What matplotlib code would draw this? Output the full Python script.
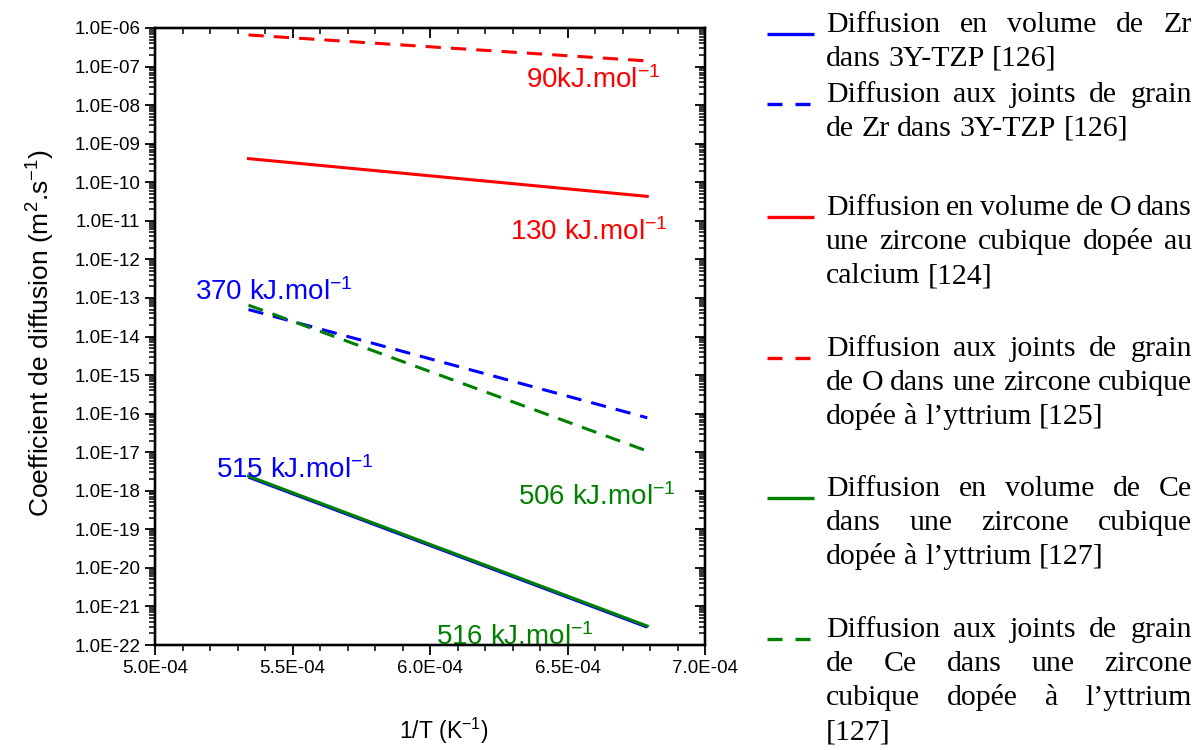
import numpy as np
import matplotlib.pyplot as plt
from matplotlib.ticker import LogLocator, MultipleLocator, FuncFormatter, NullFormatter

plt.rcParams['font.family'] = ['Liberation Sans', 'DejaVu Sans']
plt.rcParams['mathtext.fontset'] = 'custom'
plt.rcParams['mathtext.rm'] = 'Liberation Sans'
plt.rcParams['mathtext.it'] = 'Liberation Sans:italic'
plt.rcParams['mathtext.bf'] = 'Liberation Sans:bold'

# --- donnees (1/T aux bornes 1600 C et 1200 C) --- #
inv_T = [5.34e-4, 6.79e-4]

zr_vol = [2.25e-18, 2.9e-22]
zr_gb  = [5.0e-14, 7.8e-17]
o_vol  = [4.1e-10, 4.3e-11]
o_gb   = [6.6e-7, 1.4e-7]
ce_vol = [2.4e-18, 3.1e-22]
ce_gb  = [6.5e-14, 1.07e-17]

energies = ["90kJ.mol", "130 kJ.mol", "370 kJ.mol", "515 kJ.mol", "506 kJ.mol", "516 kJ.mol"]
ann_x = [6.35e-4, 6.29e-4, 5.145e-4, 5.22e-4, 6.32e-4, 6.02e-4]
ann_y = [4.5e-8, 5.1e-12, 1.4e-13, 3.5e-18, 6.9e-19, 1.6e-22]
ann_col = ['red', 'red', 'blue', 'blue', 'green', 'green']

legend_lines = [
    ["Diffusion en volume de Zr", "dans 3Y-TZP [126]"],
    ["Diffusion aux joints de grain", "de Zr dans 3Y-TZP [126]"],
    ["Diffusion en volume de O dans", "une zircone cubique dopée au", "calcium [124]"],
    ["Diffusion aux joints de grain", "de O dans une zircone cubique", "dopée à l\u2019yttrium [125]"],
    ["Diffusion en volume de Ce", "dans une zircone cubique", "dopée à l\u2019yttrium [127]"],
    ["Diffusion aux joints de grain", "de Ce dans une zircone", "cubique dopée à l\u2019yttrium", "[127]"],
]
legend_col = ['blue', 'blue', 'red', 'red', 'green', 'green']
legend_dash = [False, True, False, True, False, True]
legend_top = [22, 92, 205, 346, 486, 627]   # pixels

BLUE = '#0000FF'
RED = '#FF0000'
GREEN = '#008000'
cmap = {'blue': BLUE, 'red': RED, 'green': GREEN}

fig = plt.figure(figsize=(11.96, 7.5), dpi=100)
ax = fig.add_axes([155/1196, 1 - 645/750, 550/1196, 617/750])

lw = 2.2
dash = (0, (5, 3.3))
ax.plot(inv_T, zr_vol, color=BLUE, lw=lw, solid_capstyle='butt')
ax.plot(inv_T, zr_gb, color=BLUE, lw=lw, ls=dash)
ax.plot(inv_T, o_vol, color=RED, lw=lw)
ax.plot(inv_T, o_gb, color=RED, lw=lw, ls=dash)
ax.plot(inv_T, ce_vol, color=GREEN, lw=lw)
ax.plot(inv_T, ce_gb, color=GREEN, lw=lw, ls=dash)

for txt, x, y, c in zip(energies, ann_x, ann_y, ann_col):
    ax.text(x, y, txt + r"$^{\mathregular{-1}}$", color=cmap[c], fontsize=20,
            ha='left', va='center')

ax.set_yscale('log')
ax.set_xlim(5e-4, 7e-4)
ax.set_ylim(1e-22, 1e-6)

fmt = FuncFormatter(lambda v, p: f"{v:.1E}")
ax.xaxis.set_major_locator(MultipleLocator(0.5e-4))
ax.xaxis.set_minor_locator(MultipleLocator(0.1e-4))
ax.xaxis.set_major_formatter(fmt)
ax.yaxis.set_major_locator(LogLocator(base=10, numticks=40))
ax.yaxis.set_minor_locator(LogLocator(base=10, subs=np.arange(2, 10), numticks=400))
ax.yaxis.set_major_formatter(fmt)
ax.yaxis.set_minor_formatter(NullFormatter())
ax.tick_params(which='major', direction='out', length=7, width=1.3, labelsize=13.5)
ax.tick_params(which='minor', direction='out', length=4, width=1.1)
for s in ax.spines.values():
    s.set_linewidth(1.6)

# axes haut / droite avec ticks vers l'interieur
axr = ax.twinx()
axr.set_yscale('log')
axr.set_ylim(ax.get_ylim())
axr.yaxis.set_major_locator(LogLocator(base=10, numticks=40))
axr.yaxis.set_minor_locator(LogLocator(base=10, subs=np.arange(2, 10), numticks=400))
axr.yaxis.set_major_formatter(NullFormatter())
axr.yaxis.set_minor_formatter(NullFormatter())
axr.tick_params(which='major', direction='in', length=7, width=1.3)
axr.tick_params(which='minor', direction='in', length=4, width=1.1)
axt = ax.twiny()
axt.set_xlim(ax.get_xlim())
axt.xaxis.set_major_locator(MultipleLocator(0.5e-4))
axt.xaxis.set_minor_locator(MultipleLocator(0.1e-4))
axt.xaxis.set_major_formatter(NullFormatter())
axt.tick_params(which='major', direction='in', length=7, width=1.3)
axt.tick_params(which='minor', direction='in', length=4, width=1.1)
for a in (axr, axt):
    for s in a.spines.values():
        s.set_linewidth(1.6)

ax.set_xlabel(r"1/T (K$^{\mathregular{-1}}$)", fontsize=16.5)
ax.xaxis.set_label_coords(0.525, -0.114)
ax.set_ylabel(r"Coefficient de diffusion (m$^{\mathregular{2}}$.s$^{\mathregular{-1}}$)", fontsize=19)
ax.yaxis.set_label_coords(-0.178, 0.505)

# --- legende justifiee, en pixels --- #
lg = fig.add_axes([0, 0, 1, 1], zorder=5)
lg.set_xlim(0, 1196)
lg.set_ylim(750, 0)
lg.axis('off')
lg.patch.set_alpha(0)

renderer = fig.canvas.get_renderer()
x0, x1 = 826, 1192
pitch = 34
fs = 21.5
space = 0.25 * fs * 100 / 72
for lines, c, dashed, top in zip(legend_lines, legend_col, legend_dash, legend_top):
    hy = top + 12
    if dashed:
        lg.plot([767, 782], [hy, hy], color=cmap[c], lw=2.4, solid_capstyle='butt')
        lg.plot([795, 810], [hy, hy], color=cmap[c], lw=2.4, solid_capstyle='butt')
    else:
        lg.plot([767, 814], [hy, hy], color=cmap[c], lw=2.4, solid_capstyle='butt')
    for i, line in enumerate(lines):
        y = top + i * pitch + 10
        words = line.split(' ')
        texts = [lg.text(0, y, w, fontsize=fs, family='Liberation Serif',
                         ha='left', va='baseline') for w in words]
        widths = [t.get_window_extent(renderer).width for t in texts]
        if i == len(lines) - 1 or len(words) == 1:
            gap = space
        else:
            gap = (x1 - x0 - sum(widths)) / (len(words) - 1)
        x = x0
        for t, w in zip(texts, widths):
            t.set_x(x)
            x += w + gap

fig.savefig('out.png', dpi=100)
